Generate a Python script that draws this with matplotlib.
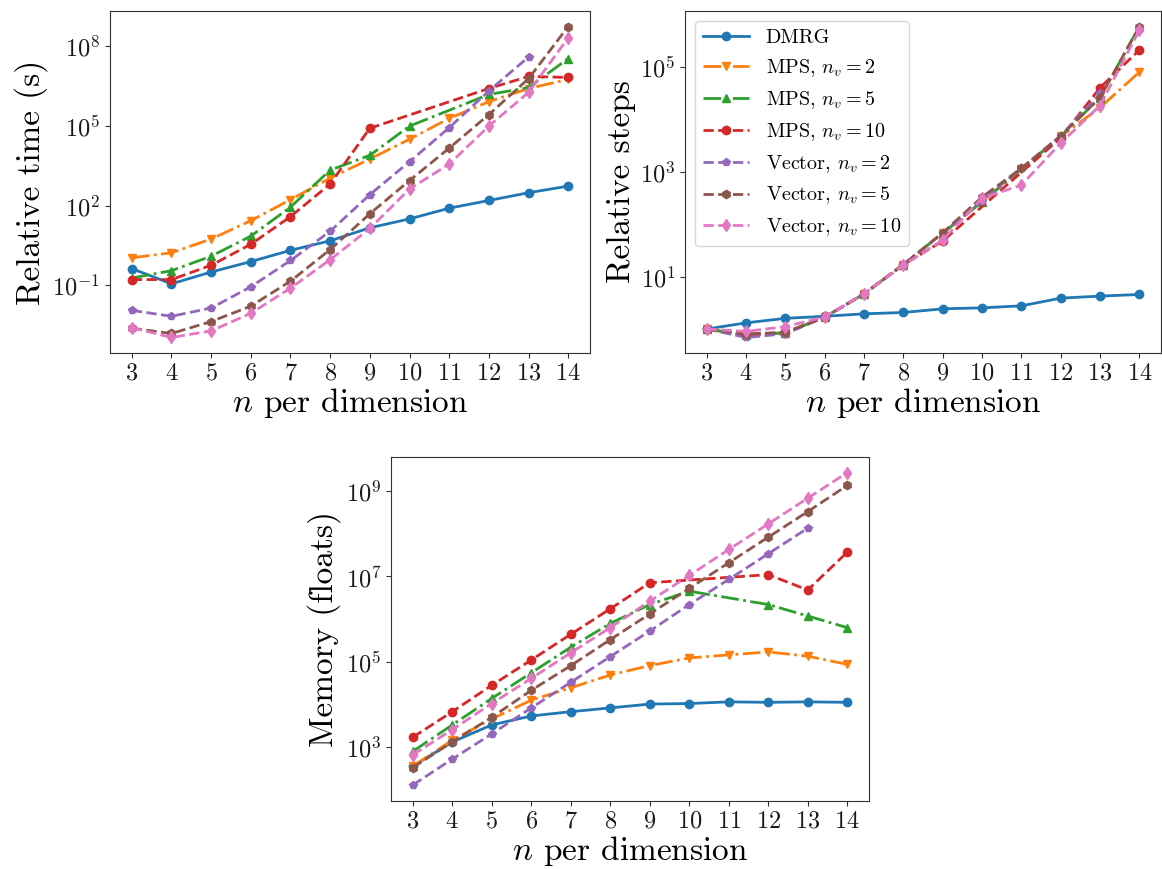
import matplotlib
matplotlib.use("Agg")
import matplotlib.pyplot as plt
from matplotlib.ticker import NullLocator

plt.rcParams.update({
    "font.family": "serif",
    "font.serif": ["cmr10"],
    "mathtext.fontset": "cm",
    "axes.formatter.use_mathtext": True,
    "axes.unicode_minus": False,
    "axes.edgecolor": "0.2",
    "xtick.color": "0.2",
    "ytick.color": "0.2",
    "xtick.labelcolor": "0.1",
    "ytick.labelcolor": "0.1",
})

# problem sizes
n_all = [3, 4, 5, 6, 7, 8, 9, 10, 11, 12, 13, 14]
n_mps5 = [3, 4, 5, 6, 7, 8, 9, 10, 12, 13, 14]
n_mps10 = [3, 4, 5, 6, 7, 8, 9, 12, 13, 14]
n_vec2 = [3, 4, 5, 6, 7, 8, 9, 10, 11, 12, 13]

labels = ["DMRG", r"MPS, $n_v = 2$", r"MPS, $n_v = 5$", r"MPS, $n_v = 10$",
          r"Vector, $n_v = 2$", r"Vector, $n_v = 5$", r"Vector, $n_v = 10$"]

# relative wall time (s)
time_dmrg = [0.43, 0.115, 0.32, 0.79, 2.1, 4.8, 14.8, 32, 81, 158, 309, 550]
time_mps2 = [1.1, 1.7, 5.6, 27.5, 170, 1100, 5750, 3.2e4, 1.95e5, 8.3e5, 2.6e6, 5.75e6]
time_mps5 = [0.19, 0.36, 1.26, 7.2, 89, 2200, 7900, 1.0e5, 1.55e6, 2.8e6, 3.5e7]
time_mps10 = [0.166, 0.166, 0.575, 3.55, 39, 660, 8.3e4, 2.6e6, 7.4e6, 6.8e6]
time_vec2 = [0.0115, 0.0069, 0.0141, 0.089, 0.87, 11, 263, 4570, 8.7e4, 2.1e6, 4.0e7]
time_vec5 = [0.00245, 0.00155, 0.00437, 0.0166, 0.145, 2.24, 50, 890, 1.48e4, 2.7e5, 6.1e6, 5.6e8]
time_vec10 = [0.00257, 0.0011, 0.00195, 0.0089, 0.079, 0.93, 14, 427, 3700, 1.0e5, 1.86e6, 2.1e8]

# relative number of steps
steps_dmrg = [1.0, 1.31, 1.6, 1.75, 1.95, 2.07, 2.43, 2.54, 2.77, 3.89, 4.25, 4.57]
steps_mps2 = [1.0, 0.76, 0.85, 1.68, 4.68, 17, 67.6, 269, 1148, 4786, 1.7e4, 8.1e4]
steps_mps5 = [1.0, 0.76, 0.85, 1.68, 4.68, 17, 67.6, 269, 4786, 2.63e4, 6.0e5]
steps_mps10 = [1.0, 0.76, 0.85, 1.68, 4.68, 17, 47.9, 4470, 4.07e4, 2.14e5]
steps_vec2 = [1.0, 0.69, 0.81, 1.68, 4.68, 17, 67.6, 282, 1175, 4900, 3.16e4]
steps_vec5 = [1.0, 0.81, 0.865, 1.68, 4.68, 17, 69, 331, 1175, 4900, 2.63e4, 6.0e5]
steps_vec10 = [1.0, 0.90, 1.11, 1.70, 4.68, 16.6, 50, 316, 562, 3550, 1.86e4, 5.1e5]

# memory footprint (floats)
mem_dmrg = [355, 1320, 3310, 5370, 6760, 8300, 10200, 10500, 11500, 11200, 11500, 11200]
mem_mps2 = [355, 1450, 4570, 12600, 24500, 49000, 81300, 1.23e5, 1.45e5, 1.7e5, 1.35e5, 8.7e4]
mem_mps5 = [794, 3310, 1.38e4, 5.5e4, 2.19e5, 7.9e5, 2.19e6, 4.5e6, 2.19e6, 1.18e6, 6.3e5]
mem_mps10 = [1700, 6760, 2.8e4, 1.1e5, 4.4e5, 1.74e6, 7.1e6, 1.1e7, 4.8e6, 3.7e7]
mem_vec2 = [129, 525, 2040, 8300, 3.3e4, 1.32e5, 5.25e5, 2.19e6, 8.5e6, 3.4e7, 1.35e8]
mem_vec5 = [331, 1320, 5000, 2.14e4, 8.1e4, 3.3e5, 1.32e6, 5.25e6, 2.09e7, 8.3e7, 3.3e8, 1.35e9]
mem_vec10 = [660, 2570, 1.05e4, 4.07e4, 1.62e5, 6.3e5, 2.63e6, 1.05e7, 4.27e7, 1.7e8, 6.8e8, 2.7e9]

xs = [n_all, n_all, n_mps5, n_mps10, n_vec2, n_all, n_all]
colors = ["C0", "C1", "C2", "C3", "C4", "C5", "C6"]
styles = ["-", "-.", "-.", "--", "--", "--", "--"]
markers = ["o", "v", "^", "o", "p", "h", "d"]

panels = [
    ([time_dmrg, time_mps2, time_mps5, time_mps10, time_vec2, time_vec5, time_vec10],
     "Relative time (s)", [1e-1, 1e2, 1e5, 1e8]),
    ([steps_dmrg, steps_mps2, steps_mps5, steps_mps10, steps_vec2, steps_vec5, steps_vec10],
     "Relative steps", [1e1, 1e3, 1e5]),
    ([mem_dmrg, mem_mps2, mem_mps5, mem_mps10, mem_vec2, mem_vec5, mem_vec10],
     "Memory (floats)", [1e3, 1e5, 1e7, 1e9]),
]

W, H = 1162, 869
fig = plt.figure(figsize=(W / 100, H / 100), dpi=100)
rects = [
    (110 / W, 1 - 353 / H, 480 / W, 342 / H),
    (685 / W, 1 - 353 / H, 476 / W, 342 / H),
    (391 / W, 1 - 800.7 / H, 478 / W, 343.7 / H),
]

for (series, ylabel, yticks), rect in zip(panels, rects):
    ax = fig.add_axes(rect)
    for x, y, c, ls, m, lab in zip(xs, series, colors, styles, markers, labels):
        ax.plot(x, y, color=c, linestyle=ls, marker=m, lw=2, ms=6, label=lab)
    ax.set_yscale("log")
    ax.set_yticks(yticks)
    ax.yaxis.set_minor_locator(NullLocator())
    ax.set_xticks(n_all)
    ax.tick_params(labelsize=17.5)
    ax.set_xlabel(r"$n$ per dimension", fontsize=24, labelpad=1)
    ax.set_ylabel(ylabel, fontsize=24, labelpad=3)
    if ylabel == "Relative steps":
        ax.legend(loc="upper left", fontsize=14.5, handlelength=2.3)

fig.savefig("out.png", dpi=100)
